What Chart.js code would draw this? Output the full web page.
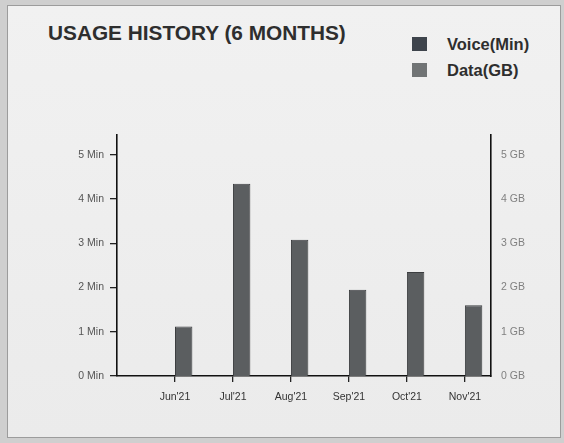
<!DOCTYPE html>
<html>
<head>
<meta charset="utf-8">
<script src="https://cdn.jsdelivr.net/npm/chart.js@4.4.0/dist/chart.umd.min.js"></script>
<style>
    body { margin: 0; width: 564px; height: 443px; background: #cfcfcf; overflow: hidden; position: relative; font-family: "Liberation Sans", Arial, sans-serif; }
    .card { position: absolute; left: 7px; top: 5px; width: 552px; height: 431px; border: 1px solid #9c9c9c; background: linear-gradient(#f1f1f1, #ebebeb); }
    .title { position: absolute; left: 48px; top: 21px; font-size: 20.8px; font-weight: bold; color: #2e2e2e; white-space: nowrap; }
    .legend { position: absolute; left: 412px; top: 31px; }
    .legend-item { height: 26px; display: flex; align-items: center; font-size: 16.5px; font-weight: bold; color: #2e2e2e; }
    .swatch { width: 15px; height: 14px; margin-right: 20px; }
    #wrap { position: absolute; left: 0; top: 0; width: 564px; height: 443px; }
</style>
</head>
<body>
<div class="card"></div>
<div class="title">USAGE HISTORY (6 MONTHS)</div>
<div class="legend">
    <div class="legend-item"><span class="swatch" style="background:#3e444c"></span>Voice(Min)</div>
    <div class="legend-item"><span class="swatch" style="background:#717475"></span>Data(GB)</div>
</div>
<div id="wrap"><canvas id="usageChart" width="564" height="443"></canvas></div>
<script>
// Données du graphique
const months = ["Jun'21", "Jul'21", "Aug'21", "Sep'21", "Oct'21", "Nov'21"];
const voiceMin = [0, 0, 0, 0, 0, 0];
const dataGB = [1.12, 4.35, 3.08, 1.95, 2.35, 1.6];
const minTicks = ['0 Min', '1 Min', '2 Min', '3 Min', '4 Min', '5 Min'];
const gbTicks = ['0 GB', '1 GB', '2 GB', '3 GB', '4 GB', '5 GB'];

// Ne garder que les graduations entières
function keepIntegers(scale) {
    scale.ticks = scale.ticks.filter(t => Number.isInteger(t.value) && t.value <= 5);
}

const ctx = document.getElementById('usageChart').getContext('2d');
const usageChart = new Chart(ctx, {
    type: 'bar',
    data: {
        datasets: [
            {
                label: 'Voice(Min)',
                data: voiceMin.map((v, i) => ({ x: i + 1, y: v })),
                backgroundColor: '#3e444c',
                yAxisID: 'yL'
            },
            {
                label: 'Data(GB)',
                data: dataGB.map((v, i) => ({ x: i + 1, y: v })),
                backgroundColor: '#5b5e60',
                borderColor: '#3c3e40',
                borderWidth: 1,
                yAxisID: 'yR'
            }
        ]
    },
    options: {
        responsive: false,
        animation: false,
        layout: { padding: { top: 135, left: 0, right: 0, bottom: 0 } },
        categoryPercentage: 0.6,
        barPercentage: 1,
        plugins: {
            legend: { display: false },
            tooltip: { enabled: false }
        },
        scales: {
            x: {
                type: 'linear',
                offset: false,
                min: 0,
                max: 6.45,
                afterFit: s => { s.height = 67; },
                afterBuildTicks: s => {
                    s.ticks = [1, 2, 3, 4, 5, 6].map(v => ({ value: v }));
                },
                ticks: {
                    callback: v => months[v - 1] || '',
                    color: '#333',
                    font: { family: 'Liberation Sans', size: 10.5 },
                    padding: 9,
                    maxRotation: 0,
                    autoSkip: false
                },
                grid: { offset: false, drawOnChartArea: false, color: '#222', tickLength: 6, lineWidth: 1.3 },
                border: { color: '#111', width: 1.6 }
            },
            yL: {
                position: 'left',
                min: 0,
                max: 5.45,
                afterFit: s => { s.width = 117; },
                afterBuildTicks: keepIntegers,
                ticks: {
                    stepSize: 1,
                    callback: v => minTicks[v],
                    color: '#555',
                    font: { family: 'Liberation Sans', size: 10.5 },
                    padding: 6
                },
                grid: { drawOnChartArea: false, color: '#222', tickLength: 7, lineWidth: 1.3 },
                border: { color: '#111', width: 1.6 }
            },
            yR: {
                position: 'right',
                min: 0,
                max: 5.45,
                afterFit: s => { s.width = 73; },
                afterBuildTicks: keepIntegers,
                ticks: {
                    stepSize: 1,
                    callback: v => gbTicks[v],
                    color: '#808080',
                    font: { family: 'Liberation Sans', size: 10.5 },
                    padding: 10
                },
                grid: { display: false, drawTicks: false },
                border: { color: '#111', width: 1.6 }
            }
        }
    }
});
</script>
</body>
</html>
